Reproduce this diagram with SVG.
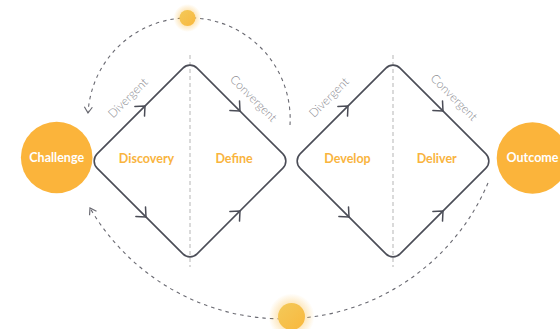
<svg xmlns="http://www.w3.org/2000/svg" xmlns:xlink="http://www.w3.org/1999/xlink" width="560" height="329" viewBox="0 0 560 329">
<style>
  .diamond { fill: none; stroke: #4b4d57; stroke-width: 1.6; }
  .chev { fill: none; stroke: #4b4d57; stroke-width: 1.5; stroke-linecap: round; stroke-linejoin: round; }
  .guide { stroke: #b5b5b5; stroke-width: 1; stroke-dasharray: 4 3; fill: none; }
  .loop { fill: none; stroke: #6a6a72; stroke-width: 1.1; stroke-dasharray: 3.5 4; }
  .big { fill: #fbb43b; }
  .bigtxt { font-family: Lato, "Liberation Sans", sans-serif; font-weight: bold; font-size: 12.5px; fill: #ffffff; text-anchor: middle; }
  .stage { font-family: Lato, "Liberation Sans", sans-serif; font-weight: bold; font-size: 12.5px; fill: #f9b43e; text-anchor: middle; }
  .mode { font-family: Lato, "Liberation Sans", sans-serif; font-weight: 300; font-size: 12px; fill: #8a8a90; text-anchor: middle; }
</style>
<defs>
  <path id="chev" class="chev" d="M-7.5,-6.8 L0,0 L-7.5,6.8"/>
  <marker id="dashArrow" markerUnits="userSpaceOnUse" markerWidth="12" markerHeight="12" refX="7" refY="5" orient="auto">
    <path d="M1,1 L7,5 L1,9" fill="none" stroke="#6a6a72" stroke-width="1.2"/>
  </marker>
  <radialGradient id="glow">
    <stop offset="0.45" stop-color="#fbc45a" stop-opacity="0.5"/>
    <stop offset="1" stop-color="#fbc45a" stop-opacity="0"/>
  </radialGradient>
  <linearGradient id="sun" x1="0" y1="0" x2="1" y2="1">
    <stop offset="0" stop-color="#f3c95a"/>
    <stop offset="1" stop-color="#f9b83d"/>
  </linearGradient>
</defs>

<rect width="560" height="329" fill="#ffffff"/>

<!-- guides -->
<line class="guide" x1="190" y1="55" x2="190" y2="267"/>
<line class="guide" x1="393" y1="55" x2="393" y2="267"/>

<g id="connectors">
  <path class="loop" d="M290,125 A101,101 0 1 0 88,113" marker-end="url(#dashArrow)"/>
  <path class="loop" d="M488,183 A223,223 0 0 1 90,208" marker-end="url(#dashArrow)"/>
  <!-- diamond 1 arrows -->
  <use xlink:href="#chev" transform="translate(145,106) rotate(-45)"/>
  <use xlink:href="#chev" transform="translate(240,111) rotate(45)"/>
  <use xlink:href="#chev" transform="translate(146,217) rotate(45)"/>
  <use xlink:href="#chev" transform="translate(240,211) rotate(-45)"/>
  <!-- diamond 2 arrows -->
  <use xlink:href="#chev" transform="translate(348,106) rotate(-45)"/>
  <use xlink:href="#chev" transform="translate(443,111) rotate(45)"/>
  <use xlink:href="#chev" transform="translate(349,217) rotate(45)"/>
  <use xlink:href="#chev" transform="translate(443,211) rotate(-45)"/>
</g>

<g id="diamond1">
  <rect class="diamond" x="119.3" y="90.3" width="141.4" height="141.4" rx="10" transform="rotate(45 190 161)"/>
  <text class="mode" transform="translate(128,98) rotate(-45)" x="0" y="4">Divergent</text>
  <text class="mode" transform="translate(253.5,98.5) rotate(45)" x="0" y="4">Convergent</text>
</g>
<g id="discovery"><text class="stage" x="146.5" y="162.5">Discovery</text></g>
<g id="define"><text class="stage" x="234" y="163.3">Define</text></g>

<g id="diamond2">
  <rect class="diamond" x="322.3" y="90.3" width="141.4" height="141.4" rx="10" transform="rotate(45 393 161)"/>
  <text class="mode" transform="translate(329,97.5) rotate(-45)" x="0" y="4">Divergent</text>
  <text class="mode" transform="translate(454,97.5) rotate(45)" x="0" y="4">Convergent</text>
</g>
<g id="develop"><text class="stage" x="347.5" y="162.5">Develop</text></g>
<g id="deliver"><text class="stage" x="436.7" y="162.5">Deliver</text></g>

<g id="challenge">
  <circle class="big" cx="56.7" cy="157.5" r="35.8"/>
  <text class="bigtxt" x="56.7" y="162.3">Challenge</text>
</g>
<g id="outcome">
  <circle class="big" cx="532.5" cy="158" r="35.8"/>
  <text class="bigtxt" x="532.5" y="162.3">Outcome</text>
</g>

<g id="topDot">
  <circle cx="187.5" cy="18" r="14" fill="url(#glow)"/>
  <circle cx="187.5" cy="18" r="8" fill="url(#sun)"/>
</g>
<g id="bottomDot">
  <circle cx="291.5" cy="316.5" r="23" fill="url(#glow)"/>
  <circle cx="291.5" cy="316.5" r="13.5" fill="url(#sun)"/>
</g>
</svg>
